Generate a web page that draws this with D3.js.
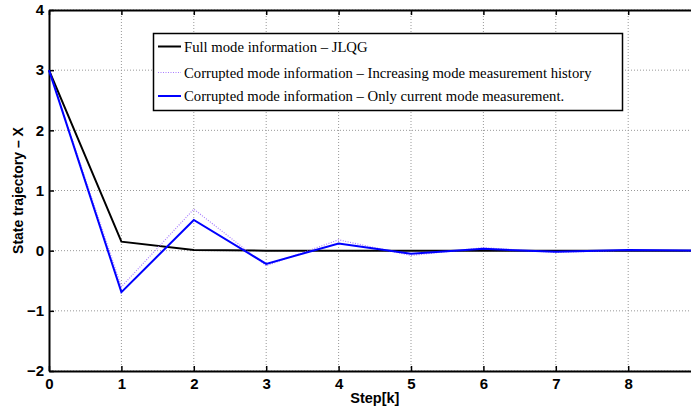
<!DOCTYPE html>
<html>
<head>
<meta charset="utf-8">
<script src="https://cdn.jsdelivr.net/npm/d3@7"></script>
<style>
  body { margin: 0; background: #fff; }
  svg { display: block; }
</style>
</head>
<body>
<div id="chart"></div>
<script>
var steps = [0, 1, 2, 3, 4, 5, 6, 7, 8, 9];
var fullMode = [3, 0.15, 0.01, 0, 0, 0, 0, 0, 0, 0];
var increasingHistory = [3, -0.6, 0.69, -0.25, 0.18, -0.08, 0.05, -0.03, 0.01, 0];
var currentOnly = [3, -0.69, 0.51, -0.22, 0.12, -0.05, 0.03, -0.02, 0.01, 0];
var xTicks = [0, 1, 2, 3, 4, 5, 6, 7, 8];
var yTicks = [-2, -1, 0, 1, 2, 3, 4];
var legendLabels = [
    "Full mode information \u2013 JLQG",
    "Corrupted mode information \u2013 Increasing mode measurement history",
    "Corrupted mode information \u2013 Only current mode measurement."
];

var W = 691, H = 408;
var margin = { top: 10, left: 49 };
var plotW = 651.6, plotH = 361;

var svg = d3.select("#chart")
    .append("svg")
    .attr("width", W)
    .attr("height", H);

var g = svg.append("g")
    .attr("transform", "translate(" + margin.left + "," + margin.top + ")");

var x = d3.scaleLinear().domain([0, 9]).range([0, plotW]);
var y = d3.scaleLinear().domain([-2, 4]).range([plotH, 0]);

// grid
g.selectAll(".vgrid")
    .data(xTicks.slice(1))
    .enter()
    .append("line")
    .attr("x1", function (d) { return x(d); })
    .attr("x2", function (d) { return x(d); })
    .attr("y1", 0)
    .attr("y2", plotH)
    .attr("stroke", "#999")
    .attr("stroke-width", 1)
    .attr("stroke-dasharray", "1,2");

g.selectAll(".hgrid")
    .data(yTicks)
    .enter()
    .append("line")
    .attr("x1", 0)
    .attr("x2", plotW)
    .attr("y1", function (d) { return y(d); })
    .attr("y2", function (d) { return y(d); })
    .attr("stroke", "#999")
    .attr("stroke-width", 1)
    .attr("stroke-dasharray", "1,2");

// axes, ticks inward
var fmt = function (d) { return d < 0 ? "\u2212" + Math.abs(d) : d; };

var xAxis = g.append("g")
    .attr("transform", "translate(0," + plotH + ")")
    .call(d3.axisBottom(x).tickValues(xTicks).tickFormat(fmt).tickSizeInner(-5).tickSizeOuter(0).tickPadding(7));

var yAxis = g.append("g")
    .call(d3.axisLeft(y).tickValues(yTicks).tickFormat(fmt).tickSizeInner(-5).tickSizeOuter(0).tickPadding(5));

var xTop = g.append("g")
    .call(d3.axisTop(x).tickValues(xTicks).tickFormat("").tickSizeInner(-5).tickSizeOuter(0));

[xAxis, yAxis, xTop].forEach(function (a) {
    a.select(".domain").attr("stroke", "#000").attr("stroke-width", 2);
    a.selectAll(".tick line").attr("stroke", "#000").attr("stroke-width", 1.5);
    a.selectAll("text")
        .attr("fill", "#000")
        .style("font-family", "'Liberation Sans', Arial, sans-serif")
        .style("font-weight", "bold")
        .style("font-size", "15px");
});

// lines
var line = function (vals) {
    return d3.line()
        .x(function (d, i) { return x(steps[i]); })
        .y(function (d) { return y(d); })(vals);
};

g.append("path")
    .attr("d", line(fullMode))
    .attr("fill", "none")
    .attr("stroke", "#000")
    .attr("stroke-width", 2);

g.append("path")
    .attr("d", line(increasingHistory))
    .attr("fill", "none")
    .attr("stroke", "#a87cff")
    .attr("stroke-width", 1.2)
    .attr("stroke-dasharray", "1,1.5");

g.append("path")
    .attr("d", line(currentOnly))
    .attr("fill", "none")
    .attr("stroke", "#0000ff")
    .attr("stroke-width", 2);

// axis labels
svg.append("text")
    .attr("x", margin.left + x(4.5))
    .attr("y", 403)
    .attr("text-anchor", "middle")
    .style("font-family", "'Liberation Sans', Arial, sans-serif")
    .style("font-weight", "bold")
    .style("font-size", "14.5px")
    .text("Step[k]");

svg.append("text")
    .attr("transform", "translate(23," + (margin.top + plotH / 2) + ") rotate(-90)")
    .attr("text-anchor", "middle")
    .style("font-family", "'Liberation Sans', Arial, sans-serif")
    .style("font-weight", "bold")
    .style("font-size", "14px")
    .text("State trajectory \u2013 X");

// legend
var legend = svg.append("g");
legend.append("rect")
    .attr("x", 153.5)
    .attr("y", 33.5)
    .attr("width", 469)
    .attr("height", 77)
    .attr("fill", "#fff")
    .attr("stroke", "#000")
    .attr("stroke-width", 1.5);

var legendColors = ["#000", "#a87cff", "#0000ff"];
var legendWidths = [2, 1.2, 2];
var legendDash = [null, "1,1.5", null];
var rowY = [46.5, 72.5, 96];

legend.selectAll(".lline")
    .data(legendLabels)
    .enter()
    .append("line")
    .attr("x1", 158)
    .attr("x2", 181)
    .attr("y1", function (d, i) { return rowY[i]; })
    .attr("y2", function (d, i) { return rowY[i]; })
    .attr("stroke", function (d, i) { return legendColors[i]; })
    .attr("stroke-width", function (d, i) { return legendWidths[i]; })
    .attr("stroke-dasharray", function (d, i) { return legendDash[i]; });

legend.selectAll(".ltext")
    .data(legendLabels)
    .enter()
    .append("text")
    .attr("x", 184)
    .attr("y", function (d, i) { return rowY[i]; })
    .attr("dy", "0.35em")
    .style("font-family", "'Liberation Serif', 'Times New Roman', serif")
    .style("font-size", "14.7px")
    .attr("fill", "#000")
    .text(function (d) { return d; });
</script>
</body>
</html>
